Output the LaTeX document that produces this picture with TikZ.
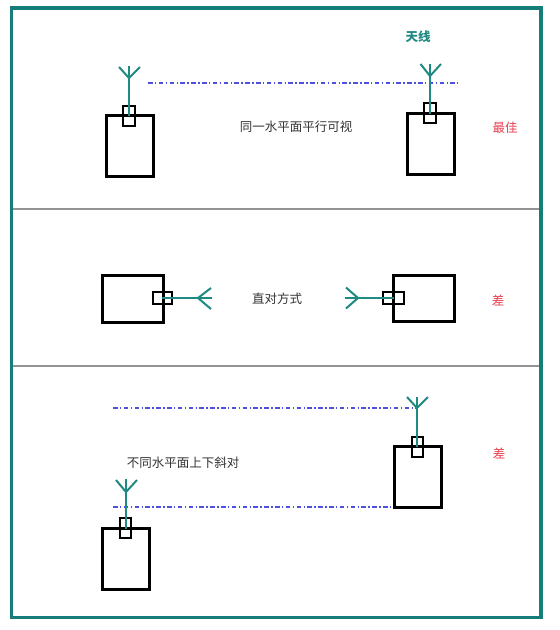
\documentclass[tikz,border=0pt]{standalone}
\usepackage{fontspec}
\newfontfamily\cjk{Noto Sans CJK SC}
\definecolor{frameteal}{HTML}{167D78}
\definecolor{antteal}{HTML}{1F8A82}
\definecolor{dashblue}{HTML}{4F4FE0}
\definecolor{goodred}{HTML}{E8404F}
\definecolor{txtgray}{HTML}{333333}
\begin{document}
\begin{tikzpicture}[x=1pt,y=-1pt,
  radio/.style={draw=black,line width=3pt},
  port/.style={draw=black,line width=1.5pt},
  ant/.style={draw=antteal,line width=2pt},
  sight/.style={draw=dashblue,line width=1.3pt,dash pattern=on 4.5pt off 2.5pt on 1.3pt off 2.5pt},
  lbl/.style={font=\cjk\fontsize{12.5}{14}\selectfont,text=txtgray,inner sep=0pt},
  rate/.style={font=\cjk\fontsize{12.5}{14}\selectfont,text=goodred,inner sep=0pt},
  divider/.style={draw=gray!85,line width=1.5pt}]
\useasboundingbox (0,0) rectangle (560,630);
\fill[white] (0,0) rectangle (560,630);
% frame and dividers
\draw[frameteal,line width=3.2pt] (11.3,8) rectangle (541,617.7);
\draw[divider] (12.9,209) -- (539.4,209);
\draw[divider] (12.9,366) -- (539.4,366);

% ===== Panel 1 =====
\coordinate (s1a) at (148,83);
\coordinate (s1b) at (458,83);
\draw[sight] (s1a) -- (s1b);
% left unit
\draw[radio] (106,115) rectangle (153,176);
\draw[port] (123,106) rectangle (135,126);
\draw[ant] (129,116) -- (129,66);
\draw[ant] (119,67) -- (129,78) -- (140,67);
% right unit
\draw[radio] (407,113) rectangle (454,174);
\draw[port] (424,103) rectangle (436,123);
\draw[ant] (430,114) -- (430,64);
\draw[ant] (420.5,64) -- (430,76) -- (441,64);
\node[lbl] (t1) at (296,127) {同一水平面平行可视};
\node[font=\cjk\fontsize{12.5}{14}\selectfont\bfseries,text=antteal,inner sep=0pt] (ant1) at (418,37) {天线};
\node[rate] (r1) at (505,128) {最佳};

% ===== Panel 2 =====
\draw[radio] (102,275) rectangle (163,322);
\draw[port] (153,292) rectangle (172,304);
\draw[ant] (162,298) -- (212,298);
\draw[ant] (211,288) -- (198,298) -- (211,309);
\draw[radio] (393,275) rectangle (454,321);
\draw[port] (383,292) rectangle (404,304);
\draw[ant] (394,298) -- (345,298);
\draw[ant] (346,287.5) -- (358,298) -- (346,308.5);
\node[lbl] (t2) at (277,299) {直对方式};
\node[rate] (r2) at (498,300) {差};

% ===== Panel 3 =====
\coordinate (s3a) at (113,408);
\coordinate (s3b) at (417,408);
\coordinate (s4a) at (113,507);
\coordinate (s4b) at (421,507);
\draw[sight] (s3a) -- (s3b);
\draw[sight] (s4a) -- (s4b);
% right unit (higher)
\draw[radio] (394,446) rectangle (441,507);
\draw[port] (412,437) rectangle (423,457);
\draw[ant] (417,447) -- (417,397);
\draw[ant] (407,397) -- (417,408) -- (428,397);
% left unit (lower)
\draw[radio] (102,528) rectangle (149,589);
\draw[port] (120,518) rectangle (131,538);
\draw[ant] (126,529) -- (126,479);
\draw[ant] (116,480) -- (126,492) -- (137,480);
\node[lbl] (t3) at (183,463) {不同水平面上下斜对};
\node[rate] (r3) at (499,453) {差};
\end{tikzpicture}
\end{document}
